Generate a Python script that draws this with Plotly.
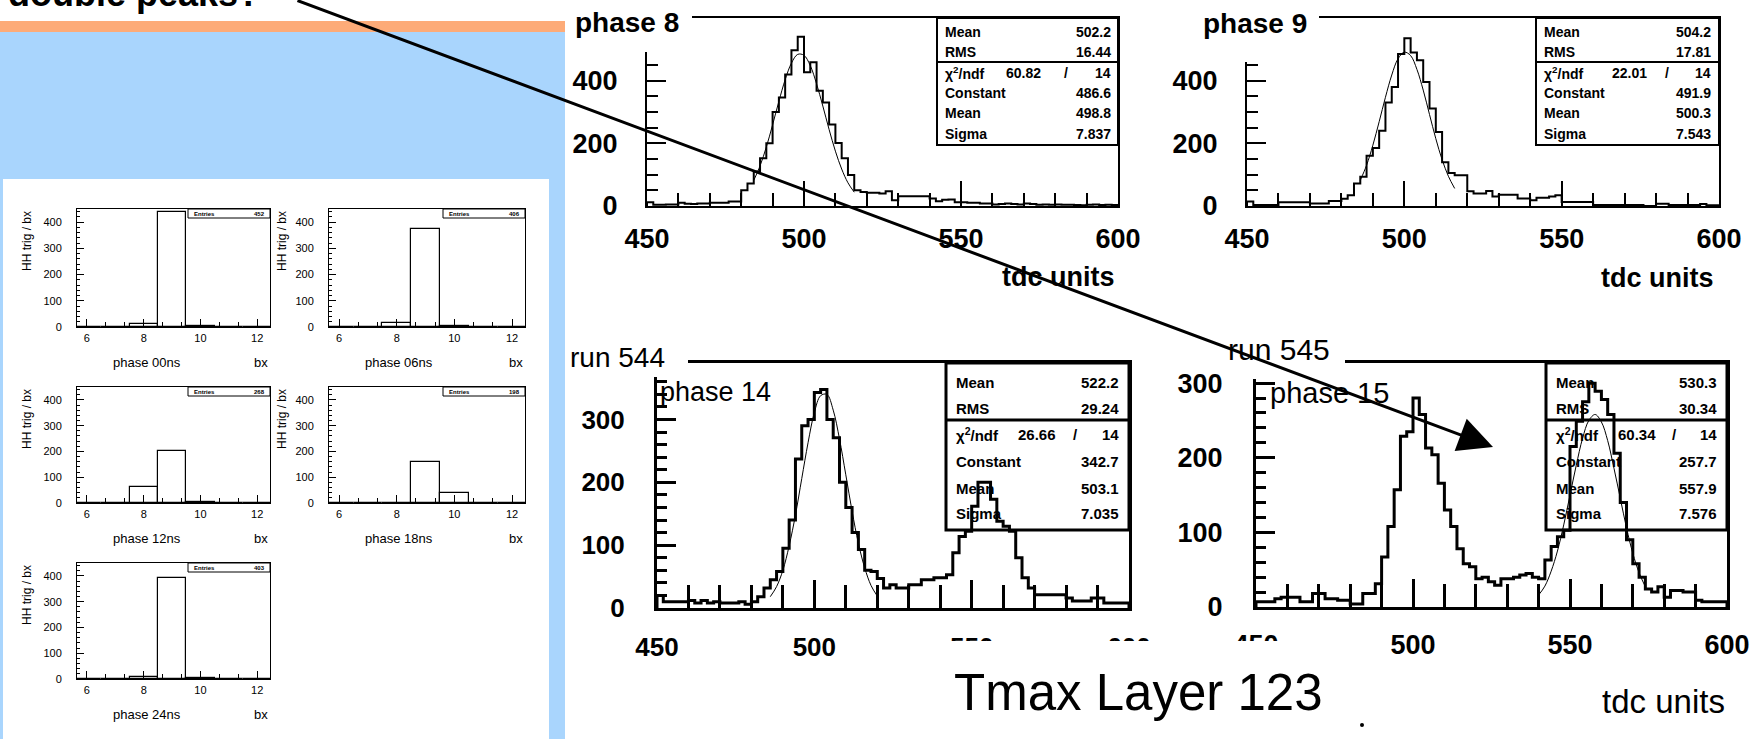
import plotly.graph_objects as go

W, H = 1753, 739

# ---------------- data ----------------
bx_bins = [6, 7, 8, 9, 10, 11, 12]
hh_phase00 = [0, 0, 12, 437, 3, 0, 0]
hh_phase06 = [0, 0, 17, 375, 4, 0, 0]
hh_phase12 = [0, 0, 61, 203, 3, 0, 0]
hh_phase18 = [0, 0, 0, 160, 38, 0, 0]
hh_phase24 = [0, 0, 7, 392, 5, 0, 0]
small_labels = ["phase 00ns", "phase 06ns", "phase 12ns", "phase 18ns", "phase 24ns"]
small_entries = ["452", "406", "268", "198", "403"]

tdc_edges = list(range(450, 601, 2))

tmax_phase8 = [12, 4, 4, 5, 5, 10, 7, 6, 8, 8,
               10, 10, 10, 14, 14, 50, 72, 110, 152, 200,
               300, 346, 420, 497, 540, 427, 459, 368, 330, 260,
               201, 152, 99, 50, 45, 42, 42, 40, 47, 18,
               31, 31, 31, 31, 31, 24, 15, 20, 21, 12,
               12, 10, 10, 8, 8, 5, 6, 8, 6, 5,
               8, 6, 4, 5, 4, 5, 4, 4, 3, 2,
               4, 5, 3, 4, 3]
tmax_phase9 = [14, 3, 3, 3, 3, 12, 12, 12, 12, 12,
               8, 8, 8, 16, 16, 23, 34, 72, 93, 160,
               185, 240, 330, 380, 485, 535, 490, 465, 396, 311,
               236, 140, 105, 98, 98, 47, 40, 40, 48, 30,
               36, 36, 36, 24, 24, 18, 26, 26, 30, 34,
               13, 13, 13, 13, 13, 3, 3, 3, 3, 3,
               3, 3, 3, 0, 0, 7, 7, 3, 3, 3,
               3, 3, 6, 2, 2]
tmax_phase14 = [20, 10, 10, 10, 10, 12, 8, 12, 8, 10,
                8, 8, 8, 10, 6, 10, 18, 32, 45, 58,
                95, 140, 237, 290, 300, 343, 348, 300, 271, 200,
                160, 120, 93, 60, 58, 47, 32, 37, 32, 32,
                37, 37, 45, 45, 48, 48, 53, 88, 114, 122,
                162, 200, 200, 173, 138, 130, 122, 80, 48, 32,
                21, 21, 21, 21, 21, 16, 11, 11, 11, 16,
                16, 8, 8, 8, 8]
tmax_phase15 = [7, 7, 7, 11, 13, 13, 13, 7, 7, 18,
                18, 11, 11, 9, 9, 4, 4, 18, 18, 31,
                67, 108, 157, 229, 235, 280, 258, 213, 204, 166,
                130, 108, 78, 58, 54, 38, 40, 34, 29, 38,
                38, 40, 43, 45, 40, 38, 63, 81, 94, 103,
                215, 249, 275, 300, 289, 278, 258, 206, 140, 90,
                58, 40, 24, 20, 27, 13, 22, 22, 20, 20,
                9, 7, 7, 7, 7]

# gaussian fit curves as drawn on the pictures
fit8_tdc = [484, 486, 488, 490, 492, 494, 496, 498, 500, 502, 504, 506, 508, 510, 512, 514, 516]
fit8_val = [82, 128, 188, 259, 334, 403, 456, 484, 481, 448, 390, 319, 244, 175, 118, 74, 44]
fit9_tdc = [486, 488, 490, 492, 494, 496, 498, 500, 502, 504, 506, 508, 510, 512, 514, 516]
fit9_val = [82, 130, 194, 269, 347, 418, 470, 491, 480, 436, 370, 292, 215, 148, 95, 56]
fit14_tdc = [486, 488, 490, 492, 494, 496, 498, 500, 502, 504, 506, 508, 510, 512, 514, 516, 518, 520]
fit14_val = [18, 34, 60, 99, 148, 206, 263, 311, 338, 340, 315, 269, 212, 154, 103, 64, 36, 19]
fit15_tdc = [540, 542, 544, 546, 548, 550, 552, 554, 556, 558, 560, 562, 564, 566, 568, 570, 572, 574]
fit15_val = [16, 28, 48, 75, 110, 150, 190, 226, 250, 258, 248, 223, 186, 146, 106, 72, 46, 27]

stats_phase8 = [("Mean", "502.2"), ("RMS", "16.44"), ("60.82", "14"), ("Constant", "486.6"), ("Mean", "498.8"), ("Sigma", "7.837")]
stats_phase9 = [("Mean", "504.2"), ("RMS", "17.81"), ("22.01", "14"), ("Constant", "491.9"), ("Mean", "500.3"), ("Sigma", "7.543")]
stats_phase14 = [("Mean", "522.2"), ("RMS", "29.24"), ("26.66", "14"), ("Constant", "342.7"), ("Mean", "503.1"), ("Sigma", "7.035")]
stats_phase15 = [("Mean", "530.3"), ("RMS", "30.34"), ("60.34", "14"), ("Constant", "257.7"), ("Mean", "557.9"), ("Sigma", "7.576")]

# ---------------- helpers ----------------
HELV = "Liberation Sans, Arial, Helvetica, sans-serif"


def px(x):
    return x / W


def py(y):
    return 1 - y / H


fig = go.Figure()
layout_axes = {}
shapes = []
annotations = []


def rect(x0, y0, x1, y1, fill=None, line_color=None, lw=0, layer="above"):
    shapes.append(dict(type="rect", xref="paper", yref="paper",
                       x0=px(x0), x1=px(x1), y0=py(y1), y1=py(y0),
                       fillcolor=fill if fill else "rgba(0,0,0,0)",
                       line=dict(color=line_color if line_color else "rgba(0,0,0,0)", width=lw),
                       layer=layer))


def hline(x0, x1, y, lw=1):
    shapes.append(dict(type="line", xref="paper", yref="paper",
                       x0=px(x0), x1=px(x1), y0=py(y), y1=py(y),
                       line=dict(color="black", width=lw), layer="above"))


def ann(text, x, y, size, family=HELV, bold=False, xanchor="left", yanchor="middle", angle=0):
    annotations.append(dict(text=text, x=px(x), y=py(y), xref="paper", yref="paper",
                            xanchor=xanchor, yanchor=yanchor, showarrow=False, textangle=angle,
                            font=dict(family=family, size=size, color="black",
                                      weight="bold" if bold else "normal")))


def add_axes(n, frame, xrange, yrange, xcfg, ycfg):
    x0, x1, y0, y1 = frame
    suf = "" if n == 1 else str(n)
    layout_axes["xaxis" + suf] = dict(domain=[px(x0), px(x1)], range=xrange, anchor="y" + suf,
                                      showline=True, mirror=True, linecolor="black", automargin=False,
                                      showgrid=False, zeroline=False, fixedrange=True, **xcfg)
    layout_axes["yaxis" + suf] = dict(domain=[py(y1), py(y0)], range=yrange, anchor="x" + suf,
                                      showline=True, mirror=True, linecolor="black", automargin=False,
                                      showgrid=False, zeroline=False, fixedrange=True, **ycfg)
    return "x" + suf, "y" + suf


# ---------------- backgrounds (left slide area) ----------------
rect(0, 21, 565, 32, fill="#FDAB78", layer="below")
rect(0, 32, 565, 739, fill="#A9D5FD", layer="below")
rect(3, 179, 549, 739, fill="white", layer="below")

ann("<b>double peaks?</b>", 6, -6, 36, HELV)

# ---------------- small bx histograms ----------------
small_frames = [(77, 270, 209, 327), (329, 525, 209, 327), (77, 270, 387, 503),
                (329, 525, 387, 503), (77, 270, 563, 679)]
small_data = [hh_phase00, hh_phase06, hh_phase12, hh_phase18, hh_phase24]
small_font = dict(family=HELV, size=11, color="black")
for i, (frame, vals) in enumerate(zip(small_frames, small_data)):
    xcfg = dict(linewidth=1, ticks="inside", ticklen=8, tickwidth=1, tickcolor="black",
                tickmode="array", tickvals=[6, 8, 10, 12], tickfont=small_font,
                ticklabelstandoff=1,
                minor=dict(ticks="inside", ticklen=5, tickcolor="black", tickwidth=1,
                           tickvals=[6.6667, 7.3333, 8.6667, 9.3333, 10.6667, 11.3333]))
    ycfg = dict(linewidth=1, ticks="inside", ticklen=7, tickwidth=1, tickcolor="black",
                tickmode="array", tickvals=[0, 100, 200, 300, 400], tickfont=small_font,
                ticklabelstandoff=12,
                minor=dict(ticks="inside", ticklen=3, tickcolor="black", tickwidth=1, dtick=20))
    xa, ya = add_axes(i + 1, frame, [5.65, 12.45], [0, 450], xcfg, ycfg)
    fig.add_trace(go.Bar(x=bx_bins, y=vals, width=1, xaxis=xa, yaxis=ya,
                         marker=dict(color="rgba(0,0,0,0)", line=dict(color="black", width=1.2)),
                         hoverinfo="skip"))
    x0, x1, y0, y1 = frame
    lab_x = 27 if x0 < 200 else 282
    ann("HH trig / bx", lab_x, y0 + 32, 12, HELV, angle=-90, xanchor="center")
    ann(small_labels[i], x0 + 70, y1 + 35, 13, HELV, xanchor="center")
    ann("bx", x1, y1 + 35, 13, HELV, xanchor="right")
    rect(x1 - 82, y0, x1, y0 + 9, line_color="black", lw=1)
    ann("<b>Entries</b>", x1 - 78, y0 + 4.5, 6, HELV)
    ann("<b>%s</b>" % small_entries[i], x1 - 3, y0 + 4.5, 6, HELV, xanchor="right")

# ---------------- big tdc histograms ----------------
big = [
    dict(frame=(647, 1118, 18, 206), yr=[0, 600], vals=tmax_phase8, fx=fit8_tdc, fy=fit8_val,
         yt=[0, 200, 400], ymin=50, lw=2, font=dict(family=HELV, size=27, color="black", weight="bold"),
         ystand=22, xstand=8, ylen=19, yminlen=11, xlen=25, xminlen=13),
    dict(frame=(1247, 1719, 18, 206), yr=[0, 600], vals=tmax_phase9, fx=fit9_tdc, fy=fit9_val,
         yt=[0, 200, 400], ymin=50, lw=2, font=dict(family=HELV, size=27, color="black", weight="bold"),
         ystand=22, xstand=8, ylen=19, yminlen=11, xlen=25, xminlen=13),
    dict(frame=(657, 1129, 363, 608), yr=[0, 390], vals=tmax_phase14, fx=fit14_tdc, fy=fit14_val,
         yt=[0, 100, 200, 300], ymin=20, lw=3, font=dict(family=HELV, size=26, color="black", weight="bold"),
         ystand=24, xstand=14, ylen=19, yminlen=10, xlen=28, xminlen=23),
    dict(frame=(1256, 1727, 363, 607), yr=[0, 327], vals=tmax_phase15, fx=fit15_tdc, fy=fit15_val,
         yt=[0, 100, 200, 300], ymin=20, lw=3, font=dict(family=HELV, size=27, color="black", weight="bold"),
         ystand=25, xstand=12, ylen=19, yminlen=10, xlen=28, xminlen=23),
]
for j, b in enumerate(big):
    n = 6 + j
    xcfg = dict(linewidth=b["lw"], ticks="inside", ticklen=b["xlen"], tickwidth=b["lw"], tickcolor="black",
                tickmode="array", tickvals=[450, 500, 550, 600], tickfont=b["font"],
                ticklabelstandoff=b["xstand"],
                minor=dict(ticks="inside", ticklen=b["xminlen"], tickcolor="black", tickwidth=b["lw"],
                           dtick=10, tick0=450))
    ycfg = dict(linewidth=b["lw"], ticks="inside", ticklen=b["ylen"], tickwidth=b["lw"], tickcolor="black",
                tickmode="array", tickvals=b["yt"], tickfont=b["font"],
                ticklabelstandoff=b["ystand"],
                minor=dict(ticks="inside", ticklen=b["yminlen"], tickcolor="black", tickwidth=b["lw"],
                           dtick=b["ymin"], tick0=0))
    xa, ya = add_axes(n, b["frame"], [450, 600], b["yr"], xcfg, ycfg)
    vals = b["vals"]
    fig.add_trace(go.Scatter(x=[450] + tdc_edges + [600], y=[0] + vals + [vals[-1], 0],
                             mode="lines", line=dict(color="black", width=b["lw"], shape="hv"),
                             xaxis=xa, yaxis=ya, hoverinfo="skip"))
    fig.add_trace(go.Scatter(x=b["fx"], y=b["fy"], mode="lines",
                             line=dict(color="black", width=1, shape="spline"),
                             xaxis=xa, yaxis=ya, hoverinfo="skip"))

# title covers (ROOT title panes hide the frame corner)
rect(568, 0, 692, 52, fill="white")
rect(1195, 0, 1319, 62, fill="white")
rect(568, 338, 688, 377, fill="white")
rect(1232, 330, 1345, 379, fill="white")

ann("<b>phase 8</b>", 573, 22, 28, HELV)
ann("<b>phase 9</b>", 1201, 24, 28, HELV)
ann("<b>tdc units</b>", 1117, 277, 27, HELV, xanchor="right")
ann("<b>tdc units</b>", 1716, 278, 27, HELV, xanchor="right")
ann("run 544", 568, 357, 28, HELV)
ann("phase 14", 658, 392, 27, HELV)
ann("run 545", 1226, 349, 30, HELV)
ann("phase 15", 1268, 393, 29, HELV)

# stats boxes
stats_cfg = [
    (stats_phase8, (937, 1118, 18, 145), 62, [32, 52, 73, 93, 113, 134], 943, 1113, 1024, 1066, 14, 2),
    (stats_phase9, (1536, 1719, 18, 145), 62, [32, 52, 73, 93, 113, 134], 1542, 1713, 1629, 1667, 14, 2),
    (stats_phase14, (946, 1129, 363, 530), 420, [382, 408, 435, 462, 488, 513], 954, 1121, 1037, 1075, 15, 3),
    (stats_phase15, (1546, 1727, 363, 530), 420, [382, 408, 435, 462, 488, 513], 1554, 1719, 1637, 1674, 15, 3),
]
for rows, box, div, ys, lx, rx, cx, sx, fs, lw in stats_cfg:
    rect(box[0], box[2], box[1], box[3], line_color="black", lw=lw)
    hline(box[0], box[1], div, lw)
    for k, (a, bval) in enumerate(rows):
        if k == 2:
            ann("<b>χ<sup>2</sup>/ndf</b>", lx, ys[k], fs)
            ann("<b>%s</b>" % a, cx, ys[k], fs, xanchor="center")
            ann("<b>/</b>", sx, ys[k], fs, xanchor="center")
            ann("<b>%s</b>" % bval, rx, ys[k], fs, xanchor="right")
        else:
            ann("<b>%s</b>" % a, lx, ys[k], fs)
            ann("<b>%s</b>" % bval, rx, ys[k], fs, xanchor="right")

# bottom caption (its white pane hides the lower half of some tick labels)
rect(945, 641, 1300, 739, fill="white")
ann("Tmax Layer 123", 952, 692, 51, HELV)
ann("tdc units", 1727, 701, 33, HELV, xanchor="right")
shapes.append(dict(type="circle", xref="paper", yref="paper", x0=px(1360), x1=px(1364),
                   y0=py(727), y1=py(723), fillcolor="black", line=dict(width=0), layer="above"))

# arrow
annotations.append(dict(x=px(1493), y=py(447), xref="paper", yref="paper",
                        ax=296 - 1493, ay=0 - 447, axref="pixel", ayref="pixel",
                        text="", showarrow=True, arrowhead=2, arrowsize=2.3, arrowwidth=3,
                        arrowcolor="black", standoff=0, startstandoff=0))

fig.update_layout(width=W, height=H, margin=dict(l=0, r=0, t=0, b=0, pad=0, autoexpand=False),
                  paper_bgcolor="white", plot_bgcolor="rgba(0,0,0,0)", showlegend=False,
                  bargap=0, shapes=shapes, annotations=annotations, **layout_axes)

fig.write_html("out.html", include_plotlyjs=True, config={"displayModeBar": False},
               post_script="document.body.style.margin='0';document.body.style.overflow='hidden';")
